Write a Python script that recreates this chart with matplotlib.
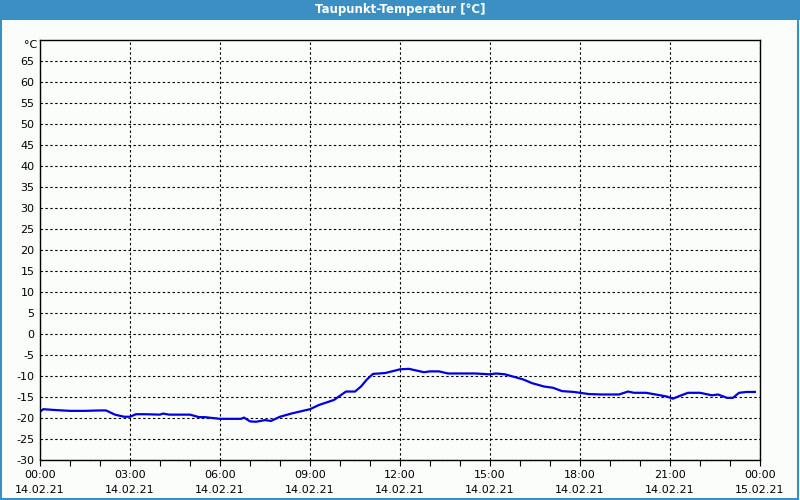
import numpy as np
import matplotlib.pyplot as plt
from matplotlib.patches import Rectangle

# hours since 14.02.21 00:00 and dew point in degC
hours = [0.0, 0.11, 0.5, 1.0, 1.5, 2.0, 2.2, 2.5, 2.8, 3.0, 3.2, 3.5,
         4.0, 4.1, 4.3, 5.0, 5.3, 5.5, 6.0, 6.7, 6.8, 7.0, 7.2, 7.5,
         7.7, 8.0, 8.4, 9.0, 9.3, 9.8, 10.2, 10.5, 10.7, 10.9, 11.1, 11.5,
         11.9, 12.0, 12.3, 12.8, 13.0, 13.3, 13.6, 14.5, 15.0, 15.2, 15.5, 15.8,
         16.1, 16.4, 16.8, 17.1, 17.4, 17.8, 18.0, 18.3, 18.7, 19.3, 19.6, 19.8,
         20.2, 20.6, 20.9, 21.1, 21.3, 21.6, 22.0, 22.4, 22.6, 22.9, 23.1, 23.3,
         23.55, 23.7, 23.83]
dew = [-18.5, -17.9, -18.1, -18.3, -18.3, -18.2, -18.2, -19.2, -19.7, -19.7, -19.1, -19.1,
       -19.2, -18.95, -19.2, -19.2, -19.8, -19.8, -20.2, -20.2, -19.9, -20.8, -20.9, -20.5,
       -20.7, -19.7, -18.9, -17.9, -16.9, -15.7, -13.7, -13.7, -12.5, -10.8, -9.5, -9.3,
       -8.6, -8.4, -8.3, -9.1, -8.9, -8.9, -9.4, -9.4, -9.6, -9.4, -9.6, -10.2,
       -10.8, -11.7, -12.5, -12.8, -13.6, -13.8, -14.0, -14.3, -14.4, -14.4, -13.7, -14.0,
       -14.0, -14.5, -14.9, -15.4, -14.8, -14.0, -14.0, -14.6, -14.4, -15.2, -15.2, -14.0,
       -13.8, -13.8, -13.8]

x_ticks = [0, 3, 6, 9, 12, 15, 18, 21, 24]
x_labels = ["00:00\n14.02.21", "03:00\n14.02.21", "06:00\n14.02.21",
            "09:00\n14.02.21", "12:00\n14.02.21", "15:00\n14.02.21",
            "18:00\n14.02.21", "21:00\n14.02.21", "00:00\n15.02.21"]
y_ticks = list(range(-30, 70, 5))

bg = "#fbfdfb"
bar = "#3c8fc2"

fig = plt.figure(figsize=(8, 5), dpi=100, facecolor=bg)

# title bar and window border
fig.patches.append(Rectangle((0, 0.96), 1, 0.04, transform=fig.transFigure,
                             facecolor=bar, edgecolor="none"))
fig.patches.append(Rectangle((0.001, 0.002), 0.997, 0.996, transform=fig.transFigure,
                             facecolor="none", edgecolor=bar, linewidth=1.5))
fig.text(0.5, 0.98, "Taupunkt-Temperatur [°C]", color="white", fontsize=8.5,
         fontweight="bold", ha="center", va="center")

ax = fig.add_axes([0.05, 0.08, 0.9, 0.84])
ax.set_facecolor(bg)
ax.plot(hours, dew, color="#0000e0", linewidth=1.6)

ax.set_xlim(0, 24)
ax.set_ylim(-30, 70)
ax.set_xticks(x_ticks)
ax.set_xticklabels(x_labels, linespacing=1.6)
ax.set_xticks(np.arange(0, 25, 1), minor=True)
ax.set_yticks(y_ticks)
ax.set_yticklabels([str(v) for v in y_ticks])
ax.tick_params(axis="x", which="both", length=4, width=0.8, labelsize=8, pad=3)
ax.tick_params(axis="y", length=0, labelsize=8, pad=4)
ax.grid(True, which="major", color="black", linestyle=(0, (2.2, 2.2)), linewidth=0.8)
for s in ax.spines.values():
    s.set_linewidth(1)
    s.set_color("black")

fig.text(0.047, 0.91, "°C", fontsize=8, ha="right", va="center")

fig.savefig("out.png", dpi=100, facecolor=bg)
